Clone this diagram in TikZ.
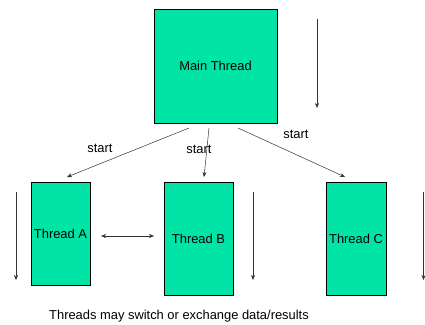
\documentclass[tikz,border=0pt]{standalone}
\usepackage{fontspec}
\setmainfont{Liberation Sans}
\usetikzlibrary{arrows.meta}
\definecolor{thr}{RGB}{0,228,166}
\begin{document}
\begin{tikzpicture}[x=1pt,y=-1pt,
  every node/.style={font=\fontsize{12.9}{15}\selectfont},
  threadbox/.style={draw=black,line width=0.8pt,fill=thr,inner sep=0pt},
  arr/.style={draw=black!80,line width=0.5pt,-{Stealth[length=5pt,width=4pt]}},
  lbl/.style={inner sep=0pt,anchor=center}]
\useasboundingbox (0,0) rectangle (425,324);
\node[threadbox,minimum width=123pt,minimum height=114pt] (main) at (215.5,66) {Main Thread};
\node[threadbox,minimum width=59pt,minimum height=103pt] (a) at (60.5,233.5) {Thread A};
\node[threadbox,minimum width=69pt,minimum height=113pt] (b) at (198.5,238.5) {Thread B};
\node[threadbox,minimum width=60pt,minimum height=113pt] (c) at (356,238.5) {Thread C};
% time arrows
\coordinate (m1) at (317,19); \coordinate (m2) at (317,108);
\draw[arr] (m1) -- (m2);
\coordinate (a1) at (16,192); \coordinate (a2) at (16,280);
\draw[arr] (a1) -- (a2);
\coordinate (b1) at (253,192); \coordinate (b2) at (253,280);
\draw[arr] (b1) -- (b2);
\coordinate (c1) at (423.5,192); \coordinate (c2) at (423.5,280);
\draw[arr] (c1) -- (c2);
% start arrows
\coordinate (s1) at (189,128); \coordinate (e1) at (67,177);
\coordinate (s2) at (209,128); \coordinate (e2) at (204,177);
\coordinate (s3) at (238,128); \coordinate (e3) at (345,177);
\draw[arr] (s1) -- (e1);
\draw[arr] (s2) -- (e2);
\draw[arr] (s3) -- (e3);
\node[lbl] (l1) at (100,148) {start};
\node[lbl] (l2) at (199,149) {start};
\node[lbl] (l3) at (296,134) {start};
% exchange
\coordinate (x1) at (101,236); \coordinate (x2) at (154,236);
\draw[arr,{Stealth[length=5pt,width=4pt]}-{Stealth[length=5pt,width=4pt]}] (x1) -- (x2);
\node[lbl] (cap) at (179,316) {Threads may switch or exchange data/results};
\end{tikzpicture}
\end{document}
